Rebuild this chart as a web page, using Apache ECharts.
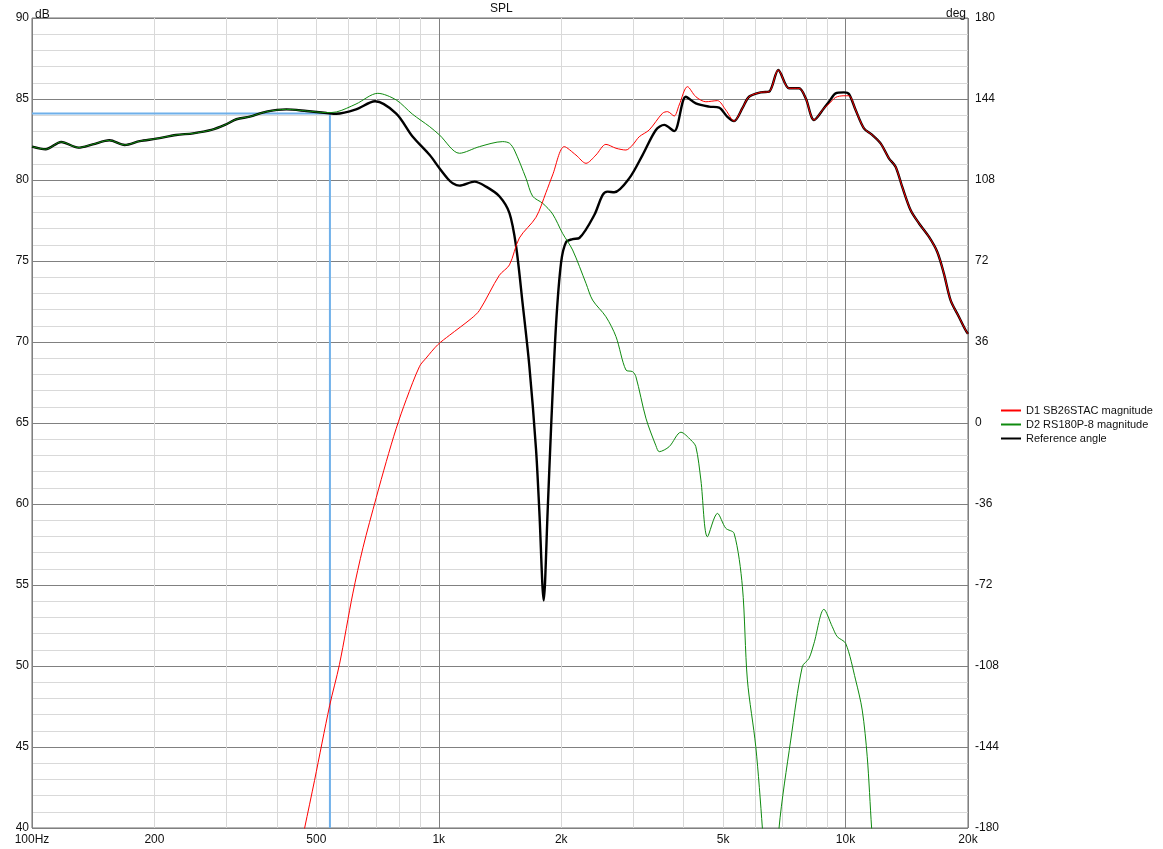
<!DOCTYPE html>
<html>
<head>
<meta charset="utf-8">
<script src="https://cdn.jsdelivr.net/npm/echarts@6/dist/echarts.min.js"></script>
<style>html,body{margin:0;padding:0;background:#fff;}#c{width:1163px;height:849px;}</style>
</head>
<body>
<div id="c"></div>
<script>
// ---- data (frequency in Hz, level in dB) ----
const redFreq = [442,468,495,539,570,615,651,702,743,786,832,897,931,994,1062,1201,1259,1409,1492,1578,1734,1835,1905,2035,2174,2301,2434,2576,2727,2885,2995,3110,3291,3548,3650,3791,3899,4087,4285,4535,4842,5077,5321,5577,5790,6187,6486,6834,7261,7685,7982,8364,8849,9106,9455,9910,10195,10587,11097,11630,12196,12782,13274,13778,14447,15146,16025,16799,17444,18118,18990,19721,20000];
const redDb = [37,40,42.94,47.54,50.1,54.5,57.3,60.4,62.62,64.67,66.45,68.5,69.01,69.83,70.41,71.44,71.95,74.12,74.76,76.42,77.7,79.23,80.31,82.06,81.54,81.03,81.54,82.2,81.96,81.85,82.16,82.67,83.09,84.12,84.22,83.95,84.63,85.76,85.14,84.83,84.9,84.32,83.64,84.43,85.14,85.41,85.45,86.79,85.66,85.66,85.04,83.7,84.43,84.7,85.1,85.2,85.2,84.32,83.19,82.78,82.26,81.34,80.82,79.59,78.15,77.33,76.5,75.57,74.24,72.59,71.56,70.74,70.5];

const greenFreq = [100,108,118,130,141,155,169,184,202,226,249,276,298,318,343,377,422,473,530,560,626,708,786,861,950,1004,1124,1259,1436,1492,1534,1639,1701,1801,1905,2016,2133,2301,2388,2576,2727,2885,2995,3052,3230,3418,3483,3685,3938,4166,4285,4409,4576,4842,5077,5321,5577,5737,6016,6245,6560,6863,7333,7829,8130,8364,8849,9275,9541,10005,10587,10990,11306,11590,12200];
const greenDb = [82.06,81.9,82.35,82.0,82.2,82.45,82.16,82.4,82.55,82.78,82.88,83.09,83.4,83.75,83.91,84.22,84.36,84.26,84.16,84.2,84.69,85.35,84.94,84.07,83.29,82.78,81.65,82.06,82.37,82.27,81.85,80.1,79.0,78.56,77.9,76.7,75.68,73.62,72.59,71.56,70.33,68.27,68.17,67.86,65.3,63.6,63.23,63.54,64.43,63.95,63.54,61.48,57.98,59.42,58.5,58.19,54.9,49.14,45.02,40,32,40,45.43,49.96,50.47,51.4,53.5,52.43,51.81,51.4,49.14,47.28,44.4,40,32];

const blackFreq = [100,108,118,130,141,155,169,184,202,226,249,276,298,318,343,377,422,473,530,560,626,697,786,861,950,1004,1052,1082,1124,1224,1307,1409,1492,1549,1608,1670,1734,1767,1811,1852,1888,1942,1998,2056,2133,2216,2412,2527,2600,2700,2938,3169,3418,3583,3791,4049,4285,4620,4888,5124,5321,5577,5790,6187,6486,6834,7261,7685,7982,8364,8849,9106,9455,9910,10195,10587,11097,11630,12196,12782,13274,13778,14447,15146,16025,16799,17444,18118,18990,19721,20000];
const blackDb = [82.06,81.9,82.35,82.0,82.2,82.45,82.16,82.4,82.55,82.78,82.88,83.09,83.4,83.75,83.91,84.22,84.36,84.26,84.14,84.09,84.36,84.86,84.1,82.7,81.54,80.72,80.08,79.8,79.65,79.9,79.59,79.0,77.96,75.91,72.34,68.5,63.39,59.55,54.05,59.55,64.67,71.06,74.89,76.17,76.35,76.42,77.84,79.07,79.28,79.24,80.1,81.54,83.09,83.4,83.02,85.14,84.73,84.53,84.47,83.9,83.64,84.43,85.14,85.41,85.45,86.79,85.66,85.66,85.04,83.7,84.43,84.83,85.35,85.41,85.31,84.32,83.19,82.78,82.26,81.34,80.82,79.59,78.15,77.33,76.5,75.57,74.24,72.59,71.56,70.74,70.5];

const cursorFreq = [100, 540, 540];
const cursorDb = [84.1, 84.1, 40];

const seriesNames = ['D1 SB26STAC magnitude', 'D2 RS180P-8 magnitude', 'Reference angle'];
const xLabelValues = [100, 200, 500, 1000, 2000, 5000, 10000, 20000];
const xLabelTexts = {100:'100Hz',200:'200',500:'500',1000:'1k',2000:'2k',5000:'5k',10000:'10k',20000:'20k'};
const xMajorValues = [100, 1000, 10000, 20000];
const xMinorValues = [200,300,400,500,600,700,800,900,2000,3000,4000,5000,6000,7000,8000,9000];

const pairs = (f, v) => f.map((x, i) => [x, v[i]]);
const FONT = 'Liberation Sans';

const chart = echarts.init(document.getElementById('c'), null, {renderer: 'canvas'});
chart.setOption({
  animation: false,
  backgroundColor: '#ffffff',
  textStyle: {fontFamily: FONT},
  title: {text: 'SPL', left: 485, top: -2, textAlign: 'left',
    textStyle: {fontFamily: FONT, fontSize: 12, fontWeight: 'normal', color: '#111'}},
  legend: {
    orient: 'vertical', left: 1000, top: 405, padding: 0, itemGap: 3, itemWidth: 20, itemHeight: 11, itemTextGap: 4,
    itemStyle: {opacity: 0},
    textStyle: {fontFamily: FONT, fontSize: 11, color: '#111'},
    data: seriesNames
  },
  grid: {left: 32, right: 195, top: 18, bottom: 21, show: true, borderColor: '#6f6f6f', borderWidth: 1, backgroundColor: 'transparent'},
  xAxis: [
    {type: 'log', logBase: 10, min: 100, max: 20000, position: 'bottom',
     axisLine: {show: false}, axisLabel: {show: false},
     axisTick: {show: false, customValues: xMinorValues},
     splitLine: {show: true, lineStyle: {color: '#d9d9d9', width: 1}}},
    {type: 'log', logBase: 10, min: 100, max: 20000, position: 'bottom',
     axisLine: {show: false},
     axisTick: {show: false, customValues: xMajorValues},
     axisLabel: {show: true, customValues: xLabelValues, margin: 6,
       formatter: v => xLabelTexts[Math.round(v)] || '', color: '#111', fontSize: 12, fontFamily: FONT},
     splitLine: {show: true, lineStyle: {color: '#808080', width: 1}}}
  ],
  yAxis: [
    {type: 'value', min: 40, max: 90, interval: 1, position: 'left',
     axisLine: {show: false}, axisTick: {show: false}, axisLabel: {show: false},
     splitLine: {show: true, lineStyle: {color: '#d9d9d9', width: 1}}},
    {type: 'value', min: 40, max: 90, interval: 5, position: 'left',
     name: 'dB', nameLocation: 'end', nameGap: -3,
     nameTextStyle: {align: 'left', verticalAlign: 'bottom', color: '#111', fontSize: 12, fontFamily: FONT, padding: [0,0,0,3]},
     axisLine: {show: false}, axisTick: {show: false},
     axisLabel: {color: '#111', fontSize: 12, margin: 3, fontFamily: FONT},
     splitLine: {show: true, lineStyle: {color: '#808080', width: 1}}},
    {type: 'value', min: -180, max: 180, interval: 36, position: 'right',
     name: 'deg', nameLocation: 'end', nameGap: -2,
     nameTextStyle: {align: 'right', verticalAlign: 'bottom', color: '#111', fontSize: 12, fontFamily: FONT, padding: [0,2,0,0]},
     axisLine: {show: false}, axisTick: {show: false},
     axisLabel: {color: '#111', fontSize: 12, margin: 7, fontFamily: FONT},
     splitLine: {show: false}}
  ],
  series: [
    {name: 'cursor', type: 'line', xAxisIndex: 1, yAxisIndex: 1, data: pairs(cursorFreq, cursorDb),
     symbol: 'none', silent: true, lineStyle: {color: '#6fb0ea', width: 2}},
    {name: seriesNames[2], type: 'line', xAxisIndex: 1, yAxisIndex: 1, data: pairs(blackFreq, blackDb),
     symbol: 'none', smooth: 0.3, lineStyle: {color: '#000000', width: 2.4}, itemStyle: {color: '#000000'}},
    {name: seriesNames[1], type: 'line', xAxisIndex: 1, yAxisIndex: 1, data: pairs(greenFreq, greenDb),
     symbol: 'none', smooth: 0.3, lineStyle: {color: '#0f8a0f', width: 1}, itemStyle: {color: '#0f8a0f'}},
    {name: seriesNames[0], type: 'line', xAxisIndex: 1, yAxisIndex: 1, data: pairs(redFreq, redDb),
     symbol: 'none', smooth: 0.3, lineStyle: {color: '#ff0000', width: 1}, itemStyle: {color: '#ff0000'}}
  ]
});
</script>
</body>
</html>
